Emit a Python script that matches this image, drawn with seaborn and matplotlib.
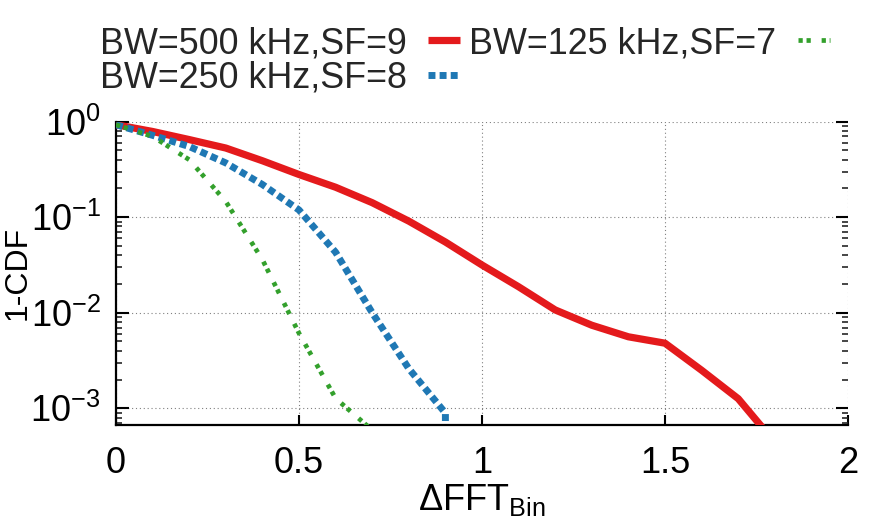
import numpy as np
import pandas as pd
import matplotlib
matplotlib.use("Agg")
import matplotlib.pyplot as plt
import seaborn as sns
from matplotlib.ticker import LogLocator, NullFormatter, FixedLocator, FixedFormatter
from matplotlib.lines import Line2D

# ---- data ----
x_500 = [0.0, 0.1, 0.2, 0.3, 0.4, 0.5, 0.6, 0.7, 0.8, 0.9, 1.0, 1.1, 1.2, 1.3, 1.4, 1.5, 1.6, 1.7, 1.8]
y_500 = [0.93, 0.79, 0.65, 0.53, 0.39, 0.28, 0.206, 0.142, 0.091, 0.055, 0.0316, 0.0187,
         0.0107, 0.0074, 0.0056, 0.0048, 0.0025, 0.00126, 0.00044]

x_250 = [0.0, 0.1, 0.2, 0.3, 0.4, 0.5, 0.6, 0.7, 0.8, 0.9, 0.9]
y_250 = [0.93, 0.72, 0.55, 0.37, 0.22, 0.119, 0.043, 0.010, 0.0026, 0.00089, 0.00001]

x_125 = [0.0, 0.1, 0.2, 0.3, 0.4, 0.5, 0.6, 0.7]
y_125 = [0.93, 0.70, 0.40, 0.146, 0.036, 0.0061, 0.00127, 0.00059]

labels = ["BW=500 kHz,SF=9", "BW=250 kHz,SF=8", "BW=125 kHz,SF=7"]
colors = ["#e41a1c", "#1f78b4", "#33a02c"]

x_ticks = [0, 0.5, 1, 1.5, 2]
x_tick_labels = ["0", "0.5", "1", "1.5", "2"]
y_ticks = [1e-3, 1e-2, 1e-1, 1e0]
y_tick_labels = [r"$\mathregular{10^{-3}}$", r"$\mathregular{10^{-2}}$",
                 r"$\mathregular{10^{-1}}$", r"$\mathregular{10^{0}}$"]

# ---- style ----
sns.set_theme(style="white")
plt.rcParams["font.family"] = ["Liberation Sans", "DejaVu Sans"]
plt.rcParams["axes.unicode_minus"] = False
plt.rcParams["mathtext.fontset"] = "custom"
plt.rcParams["mathtext.rm"] = "Liberation Sans"
plt.rcParams["mathtext.it"] = "Liberation Sans:italic"
plt.rcParams["mathtext.bf"] = "Liberation Sans:bold"

W, H = 872, 527
fig = plt.figure(figsize=(W / 100, H / 100), dpi=100)
ax = fig.add_axes([116 / W, 102 / H, 732 / W, 303.3 / H])

d500 = pd.DataFrame({"x": x_500, "y": y_500})
d250 = pd.DataFrame({"x": x_250, "y": y_250})
d125 = pd.DataFrame({"x": x_125, "y": y_125})

green_dash = (0, (0.9, 0.8, 0.9, 2.3))
blue_dash = (0, (1.0, 0.6))

sns.lineplot(data=d500, x="x", y="y", ax=ax, color=colors[0], lw=5.2,
             estimator=None, sort=False, solid_capstyle="butt", zorder=3)
l500 = ax.lines[-1]
sns.lineplot(data=d250, x="x", y="y", ax=ax, color=colors[1], lw=5.0,
             estimator=None, sort=False, zorder=3)
l250 = ax.lines[-1]
l250.set_linestyle(blue_dash)
l250.set_dash_capstyle("butt")
sns.lineplot(data=d125, x="x", y="y", ax=ax, color=colors[2], lw=3.4,
             estimator=None, sort=False, zorder=3)
l125 = ax.lines[-1]
l125.set_linestyle(green_dash)
l125.set_dash_capstyle("butt")

ax.set_yscale("log")
ax.set_xlim(0, 2)
ax.set_ylim(6.68e-4, 1)

ax.xaxis.set_major_locator(FixedLocator(x_ticks))
ax.xaxis.set_major_formatter(FixedFormatter(x_tick_labels))
ax.yaxis.set_major_locator(FixedLocator(y_ticks))
ax.yaxis.set_major_formatter(FixedFormatter(y_tick_labels))
ax.yaxis.set_minor_locator(LogLocator(base=10, subs=np.arange(2, 10), numticks=20))
ax.yaxis.set_minor_formatter(NullFormatter())

ax.grid(True, which="major", linestyle=(0, (1, 2.5)), color="0.5", lw=0.8, zorder=0)

for s in ["top", "right"]:
    ax.spines[s].set_visible(False)
for s in ["left", "bottom"]:
    ax.spines[s].set_visible(True)
    ax.spines[s].set_color("black")
    ax.spines[s].set_linewidth(1.6)

ax.tick_params(axis="y", which="major", direction="in", length=9, width=1.5,
               left=True, right=True, labelsize=26, pad=11, colors="black")
ax.tick_params(axis="y", which="minor", direction="in", length=4.5, width=1.2,
               left=True, right=True)
ax.tick_params(axis="x", which="major", direction="in", length=7, width=1.5,
               bottom=True, top=False, labelsize=26, pad=15, colors="black")
ax.tick_params(axis="x", which="minor", bottom=False, top=False)

ax.set_xlabel(r"$\mathregular{\Delta}$FFT$_\mathregular{Bin}$", fontsize=26, labelpad=1, color="black")
ax.set_ylabel("1-CDF", fontsize=23, color="black")
ax.yaxis.set_label_coords((33 - 116) / 732, 0.5)

# legend: text first, then sample; order gives row1: 500,125  row2: 250
handles = [
    Line2D([], [], color=colors[0], lw=5.2, solid_capstyle="butt"),
    Line2D([], [], color=colors[1], lw=5.0, linestyle=blue_dash, dash_capstyle="butt"),
    Line2D([], [], color=colors[2], lw=3.4, linestyle=green_dash, dash_capstyle="butt"),
]
leg = fig.legend(handles=handles, labels=labels, ncol=2, markerfirst=False,
                 fontsize=25.8, handlelength=0.9, handletextpad=0.6,
                 columnspacing=0.25, labelspacing=0.0, frameon=False, borderpad=0,
                 loc="center", bbox_to_anchor=(465 / W, 1 - 61 / H),
                 bbox_transform=fig.transFigure)

fig.savefig("out.png", dpi=100)
